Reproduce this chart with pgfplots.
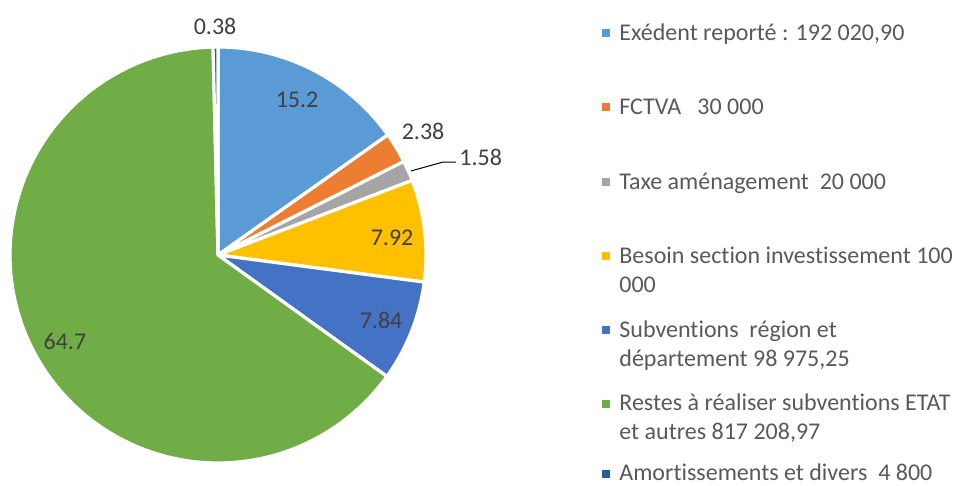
\documentclass[border=0pt]{standalone}
\usepackage{pgfplots}
\pgfplotsset{compat=1.18}
\usepackage{fontspec}
\setmainfont{Carlito}[Ligatures={NoCommon}]
\definecolor{c1}{HTML}{5B9BD5}
\definecolor{c2}{HTML}{ED7D31}
\definecolor{c3}{HTML}{A5A5A5}
\definecolor{c4}{HTML}{FFC000}
\definecolor{c5}{HTML}{4472C4}
\definecolor{c6}{HTML}{70AD47}
\definecolor{c7}{HTML}{255E91}
\definecolor{lab}{HTML}{404040}
\definecolor{lg}{HTML}{595959}
% slice: #1 = cumulative share before the slice, #2 = share, #3 = colour
\newcommand{\slice}[3]{%
  \pgfmathsetmacro\angA{90-3.6*#1}%
  \pgfmathsetmacro\angB{90-3.6*(#1+#2)}%
  \edef\tmp{\noexpand\addplot[fill=#3, draw=white, line width=1.6pt, line join=round,
     domain=\angB:\angA, samples=120, variable=\noexpand\t]}%
  \tmp ({cos(\t)},{sin(\t)}) -- (axis cs:0,0) -- cycle;
}
\begin{document}
\fontsize{12}{14}\selectfont
\begin{tikzpicture}[x=1pt,y=1pt]
\path[use as bounding box] (0,0) rectangle (478,243);
\begin{axis}[at={(109pt,115.5pt)}, anchor=origin, scale only axis,
  width=208pt, height=208pt, xmin=-1, xmax=1, ymin=-1, ymax=1,
  hide axis, clip=false]
\slice{0}{15.2}{c1}
\slice{15.2}{2.38}{c2}
\slice{17.58}{1.58}{c3}
\slice{19.16}{7.92}{c4}
\slice{27.08}{7.84}{c5}
\slice{34.92}{64.7}{c6}
\slice{99.62}{0.38}{c7}
\begin{scope}[every node/.style={text=lab, inner sep=0pt, font=\fontsize{12}{14}\selectfont}]
\node at (axis cs:-0.014,1.101) {0.38};
\node at (axis cs:0.380,0.745) {15.2};
\node at (axis cs:0.986,0.596) {2.38};
\node[anchor=west] at (axis cs:1.159,0.471) {1.58};
\node at (axis cs:0.837,0.082) {7.92};
\node at (axis cs:0.784,-0.3125) {7.84};
\node at (axis cs:-0.736,-0.418) {64.7};
\end{scope}
\draw[black, line width=0.5pt] (axis cs:0.928,0.404) -- (axis cs:1.082,0.447) -- (axis cs:1.144,0.447);
\end{axis}
\begin{scope}[every node/.style={inner sep=0pt, text=lg, font=\fontsize{12}{14}\selectfont}]
\tikzset{mk/.style={fill=#1, minimum size=4pt, inner sep=0pt, anchor=center}}
\node[mk=c1] at (303,226.5) {};
\node[anchor=base west] at (309.5,222.5) {Exédent reporté : 192 020,90};
\node[mk=c2] at (303,189.5) {};
\node[anchor=base west] at (309.5,185.5) {FCTVA\ \ \ 30 000};
\node[mk=c3] at (303,152) {};
\node[anchor=base west] at (309.5,148) {Taxe aménagement\ \ 20 000};
\node[mk=c4] at (303,115) {};
\node[anchor=base west] at (309.5,111) {Besoin section investissement 100};
\node[anchor=base west] at (309.5,96.5) {000};
\node[mk=c5] at (303,78) {};
\node[anchor=base west] at (309.5,74) {Subventions\ \ région et};
\node[anchor=base west] at (309.5,59.5) {département 98 975,25};
\node[mk=c6] at (303,41) {};
\node[anchor=base west] at (309.5,37.5) {Restes à réaliser subventions ETAT};
\node[anchor=base west] at (309.5,23) {et autres 817 208,97};
\node[mk=c7] at (303,6) {};
\node[anchor=base west] at (309.5,2.5) {Amortissements et divers\ \ 4 800};
\end{scope}
\end{tikzpicture}
\end{document}
